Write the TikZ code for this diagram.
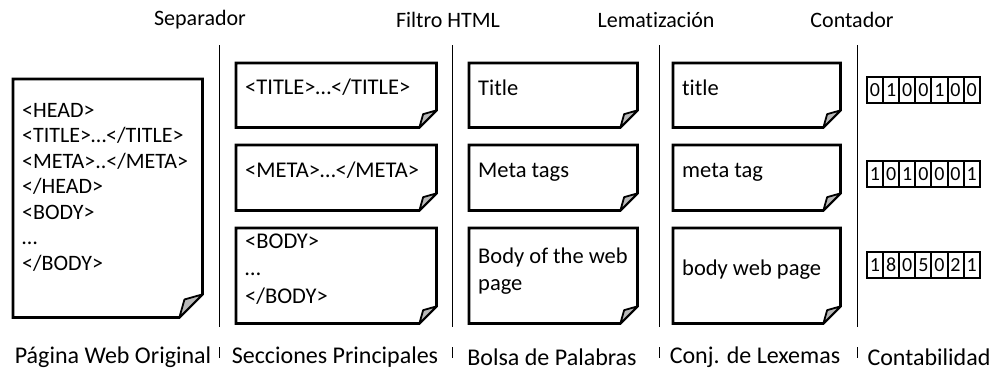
\documentclass[tikz,border=0pt]{standalone}
\usepackage{fontspec}
\setmainfont{Carlito}[Ligatures={NoCommon}]
\newcommand\foldbox[6]{%
  \node[boxarea, minimum width=#4pt, minimum height=#5pt, anchor=north west] (#1) at (#2,#3) {};
  \draw[boxline] (#1.north west) -- (#1.north east) -- ([yshift=#6pt]#1.south east)
     -- ([xshift=-#6pt]#1.south east) -- (#1.south west) -- cycle;
  \filldraw[foldfill] ([yshift=#6pt]#1.south east) -- ([shift={(-0.78*#6pt,0.78*#6pt)}]#1.south east)
     -- ([xshift=-#6pt]#1.south east) -- cycle;
}
\begin{document}
\begin{tikzpicture}[x=1pt,y=-1pt,
  boxarea/.style={inner sep=0pt, draw=none},
  boxline/.style={line width=2.7pt, line join=miter},
  foldfill/.style={fill=black!28, draw=black, line width=1.8pt, line join=round},
  txt/.style={font=\fontsize{22.5}{27}\selectfont, inner sep=0pt, anchor=base west},
  dtxt/.style={font=\fontsize{22}{26}\selectfont, inner sep=0pt, anchor=base west},
  toplab/.style={font=\fontsize{22}{26}\selectfont, inner sep=0pt},
  botlab/.style={font=\fontsize{24}{28}\selectfont, inner sep=0pt},
  sepline/.style={line width=0.9pt},
  cell/.style={draw, line width=2pt, minimum width=16.1pt, minimum height=26pt, inner sep=0pt,
     font=\fontsize{20}{24}\selectfont}]
\useasboundingbox (0,0) rectangle (995,383);

% separators
\foreach \x/\n in {219/a,452/b,659/c,857/d}{
  \coordinate (s\n-top) at (\x,45);
  \coordinate (s\n-mid) at (\x,327);
  \coordinate (s\n-low) at (\x,347);
  \coordinate (s\n-bot) at (\x,358);
  \draw[sepline] (s\n-top) -- (s\n-mid) (s\n-low) -- (s\n-bot);
}

% top labels
\node[toplab] (tl1) at (200,20) {Separador};
\node[toplab] (tl2) at (448,20) {Filtro HTML};
\node[toplab] (tl3) at (656,20) {Lematización};
\node[toplab] (tl4) at (852,20) {Contador};

% bottom labels
\node[botlab] (bl1) at (113,357) {Página Web Original};
\node[botlab] (bl2) at (335,357) {Secciones Principales};
\node[botlab] (bl3) at (552,357) {Bolsa de Palabras};
\node[botlab] (bl4) at (755,357) {Conj. de Lexemas};
\node[botlab] (bl5) at (929,357) {Contabilidad};

% original page
\foldbox{orig}{13}{79}{189}{238}{23}
\node[dtxt] (o1) at (22,117) {<HEAD>};
\node[dtxt] (o2) at (22,142.5) {<TITLE>…</TITLE>};
\node[dtxt] (o3) at (22,168) {<META>..</META>};
\node[dtxt] (o4) at (22,193.5) {</HEAD>};
\node[dtxt] (o5) at (22,219) {<BODY>};
\node[dtxt] (o6) at (22,244.5) {…};
\node[dtxt] (o7) at (22,270) {</BODY>};

% sections
\foldbox{sec1}{236}{63}{200}{64}{17}
\foldbox{sec2}{236}{145}{200}{65}{17}
\foldbox{sec3}{236}{228}{200}{95}{17}
\node[txt] (s1) at (245,94) {<TITLE>…</TITLE>};
\node[txt] (s2) at (245,177) {<META>…</META>};
\node[txt] (s3a) at (245,248) {<BODY>};
\node[txt] (s3b) at (245,275) {…};
\node[txt] (s3c) at (245,303) {</BODY>};

% bag of words
\foldbox{bag1}{469}{63}{168}{64}{17}
\foldbox{bag2}{469}{145}{168}{65}{17}
\foldbox{bag3}{469}{228}{168}{95}{17}
\node[txt] (b1) at (478,95) {Title};
\node[txt] (b2) at (478,177) {Meta tags};
\node[txt] (b3a) at (478,263) {Body of the web};
\node[txt] (b3b) at (478,290) {page};

% lexemes
\foldbox{lex1}{673}{63}{167}{64}{17}
\foldbox{lex2}{673}{145}{167}{65}{17}
\foldbox{lex3}{673}{228}{167}{95}{17}
\node[txt] (x1) at (682,95) {title};
\node[txt] (x2) at (682,177) {meta tag};
\node[txt] (x3) at (682,275) {body web page};

% counters
\foreach \d [count=\i] in {0,1,0,0,1,0,0}
  \node[cell] (c1-\i) at ({867+16.1*(\i-0.5)},90) {\d};
\foreach \d [count=\i] in {1,0,1,0,0,0,1}
  \node[cell] (c2-\i) at ({867+16.1*(\i-0.5)},174) {\d};
\foreach \d [count=\i] in {1,8,0,5,0,2,1}
  \node[cell] (c3-\i) at ({867+16.1*(\i-0.5)},265) {\d};
\end{tikzpicture}
\end{document}
